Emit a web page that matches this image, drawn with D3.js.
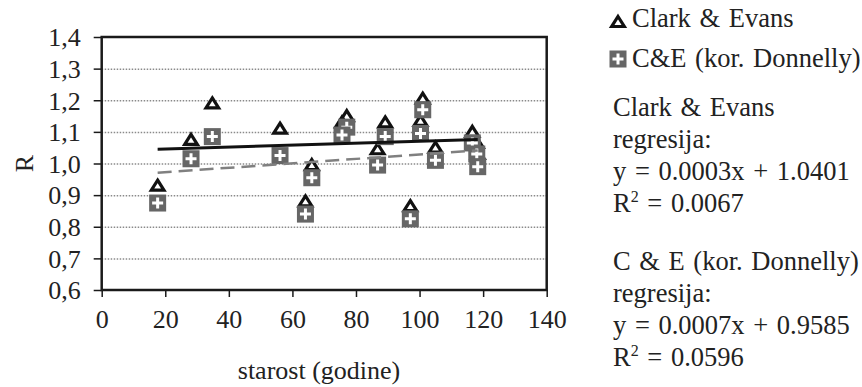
<!DOCTYPE html>
<html>
<head>
<meta charset="utf-8">
<script src="https://cdnjs.cloudflare.com/ajax/libs/d3/7.8.5/d3.min.js"></script>
<style>
  html, body { margin: 0; padding: 0; background: #fff; }
  svg { display: block; font-family: "Liberation Serif", "Times New Roman", serif; }
  .axis path, .axis line { stroke: #1a1a1a; }
  .grid line { stroke: #8a8a8a; stroke-width: 1.5; stroke-dasharray: 1.5, 1.5; }
  .grid path { display: none; }
  .label { font-size: 26px; fill: #222; }
  .side { font-size: 26.5px; fill: #222; word-spacing: 2px; }
</style>
</head>
<body>
<div id="chart"></div>
<script>
//Data: stand age (years) and the two R indices
var ages       = [17.6, 28.1, 34.8, 56.1, 64.1, 66.1, 77.1, 75.6, 89.2, 86.8, 101.0, 100.3, 105.0, 97.1, 116.6, 118.0, 118.3];
var clarkEvans = [0.93, 1.075, 1.19, 1.11, 0.88, 0.995, 1.15, 1.13, 1.13, 1.045, 1.205, 1.135, 1.05, 0.865, 1.10, 1.065, 1.03];
var donnelly   = [0.875, 1.015, 1.085, 1.025, 0.84, 0.955, 1.115, 1.09, 1.085, 0.995, 1.17, 1.095, 1.01, 0.825, 1.065, 1.03, 0.99];

//Regression coefficients [slope, intercept]
var trendCE  = [0.0003, 1.0401];
var trendCED = [0.0007, 0.9585];

//Axis ticks
var xTicks = [0, 20, 40, 60, 80, 100, 120, 140];
var yTicks = [0.6, 0.7, 0.8, 0.9, 1.0, 1.1, 1.2, 1.3, 1.4];
var gridTicks = [0.7, 0.8, 0.9, 1.0, 1.1, 1.2, 1.3];

//Texts
var seriesNames = ["Clark & Evans", "C&E (kor. Donnelly)"];
var regBlock1 = ["Clark & Evans", "regresija:", "y = 0.0003x + 1.0401", ["R", "2", " = 0.0067"]];
var regBlock2 = ["C & E (kor. Donnelly)", "regresija:", "y = 0.0007x + 0.9585", ["R", "2", " = 0.0596"]];
var xLabel = "starost (godine)";
var yLabel = "R";

//Dimensions
var width = 862, height = 387;
var margin = {top: 37, right: 315.3, bottom: 97, left: 101.7};
var plotW = width - margin.left - margin.right,
    plotH = height - margin.top - margin.bottom;

var serif = '"Liberation Serif", "Times New Roman", serif';
var comma = d3.formatLocale({decimal: ",", thousands: ".", grouping: [3], currency: ["", ""]}).format(".1f");

var x = d3.scaleLinear().domain([0, 140]).range([0, plotW]);
var y = d3.scaleLinear().domain([0.6, 1.4]).range([plotH, 0]);

var svg = d3.select("#chart").append("svg")
    .attr("width", width)
    .attr("height", height)
    .style("background-color", "#fff");

var g = svg.append("g")
    .attr("transform", "translate(" + margin.left + "," + margin.top + ")");

//Horizontal dotted grid
g.append("g")
    .attr("class", "grid")
    .call(d3.axisLeft(y).tickValues(gridTicks).tickSize(-plotW).tickFormat(""));

//Serif tick labels instead of d3's default sans-serif
function styleAxis(a) {
  a.attr("font-family", null).attr("font-size", null);
  a.select(".domain").remove();
  a.selectAll("line").attr("stroke-width", 1.5);
  a.selectAll("text")
    .style("font-family", serif)
    .style("font-size", "26px")
    .attr("fill", "#222");
}

//Y axis
g.append("g")
    .attr("class", "axis")
    .call(d3.axisLeft(y).tickValues(yTicks).tickSize(8).tickPadding(13).tickFormat(comma))
    .call(styleAxis)
    .selectAll("text").attr("dy", "0.34em");

//X axis
g.append("g")
    .attr("class", "axis")
    .attr("transform", "translate(0," + plotH + ")")
    .call(d3.axisBottom(x).tickValues(xTicks).tickSize(7).tickPadding(13).tickFormat(d3.format("d")))
    .call(styleAxis);

//Plot frame
g.append("rect")
    .attr("x", 0).attr("y", 0)
    .attr("width", plotW).attr("height", plotH)
    .attr("fill", "none")
    .attr("stroke", "#1a1a1a")
    .attr("stroke-width", 2.5);

//Axis labels
svg.append("text")
    .attr("class", "label")
    .attr("x", 319).attr("y", 379)
    .attr("text-anchor", "middle")
    .text(xLabel);

svg.append("text")
    .attr("class", "label")
    .attr("text-anchor", "middle")
    .attr("transform", "translate(33," + (margin.top + y(1.0)) + ") rotate(-90)")
    .text(yLabel);

//Marker helpers
var triPath = "M0,-5.5 L6.3,4.5 L-6.3,4.5 Z";
function drawTriangle(sel) {
  sel.append("path")
    .attr("d", triPath)
    .attr("fill", "#fff")
    .attr("stroke", "#111")
    .attr("stroke-width", 3.2)
    .attr("stroke-linejoin", "miter");
}
function drawSquare(sel) {
  sel.append("rect")
    .attr("x", -8.5).attr("y", -8.5)
    .attr("width", 17).attr("height", 17)
    .attr("fill", "#666");
  sel.append("path")
    .attr("d", "M-5.5,0 H5.5 M0,-5.5 V5.5")
    .attr("stroke", "#fff")
    .attr("stroke-width", 3);
}

var pts = ages.map(function(a, i) { return {age: a, ce: clarkEvans[i], ced: donnelly[i]}; });

//Clark & Evans triangles
g.selectAll(".tri")
    .data(pts)
  .enter().append("g")
    .attr("class", "tri")
    .attr("transform", function(d) { return "translate(" + x(d.age) + "," + y(d.ce) + ")"; })
    .call(drawTriangle);

//Donnelly corrected squares
g.selectAll(".sq")
    .data(pts)
  .enter().append("g")
    .attr("class", "sq")
    .attr("transform", function(d) { return "translate(" + x(d.age) + "," + y(d.ced) + ")"; })
    .call(drawSquare);

//Trend lines over the age range
var ageRange = d3.extent(ages);
var lineGen = d3.line()
    .x(function(d) { return x(d[0]); })
    .y(function(d) { return y(d[1]); });

function trendPts(c) {
  return ageRange.map(function(a) { return [a, c[0] * a + c[1]]; });
}

g.append("path")
    .attr("d", lineGen(trendPts(trendCED)))
    .attr("fill", "none")
    .attr("stroke", "#808080")
    .attr("stroke-width", 2.5)
    .attr("stroke-dasharray", "14, 7");

g.append("path")
    .attr("d", lineGen(trendPts(trendCE)))
    .attr("fill", "none")
    .attr("stroke", "#111")
    .attr("stroke-width", 3);

//Legend
var legendX = 618, legendTextX = 632;
var leg1 = svg.append("g").attr("transform", "translate(" + legendX + ",22)");
drawTriangle(leg1);
var leg2 = svg.append("g").attr("transform", "translate(" + legendX + ",59)");
drawSquare(leg2);

svg.selectAll(".legtext")
    .data(seriesNames)
  .enter().append("text")
    .attr("class", "side legtext")
    .attr("x", legendTextX)
    .attr("y", function(d, i) { return i === 0 ? 27 : 67; })
    .text(function(d) { return d; });

//Regression text blocks
function regBlock(lines, top) {
  lines.forEach(function(l, i) {
    var t = svg.append("text")
        .attr("class", "side")
        .attr("x", 613)
        .attr("y", top + i * 32);
    if (typeof l === "string") {
      t.text(l);
    } else {
      t.append("tspan").text(l[0]);
      t.append("tspan").attr("dy", -10).style("font-size", "16px").text(l[1]);
      t.append("tspan").attr("dy", 10).text(l[2]);
    }
  });
}
regBlock(regBlock1, 116);
regBlock(regBlock2, 270);
</script>
</body>
</html>
